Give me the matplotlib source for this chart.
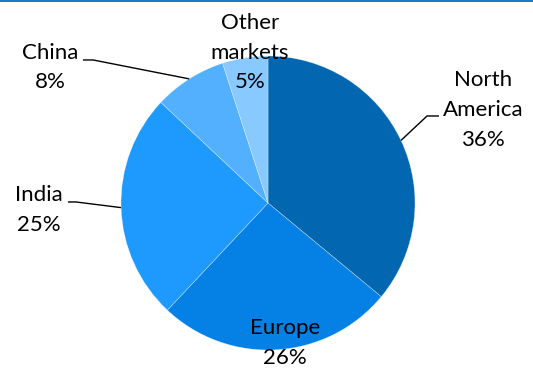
import matplotlib
matplotlib.use("Agg")
import matplotlib.pyplot as plt
from matplotlib.lines import Line2D
import numpy as np

# Revenue share by market
markets = ["North\nAmerica", "Europe", "India", "China", "Other\nmarkets"]
shares = [36, 26, 25, 8, 5]
colors = ["#0366b1", "#0580e5", "#1e9aff", "#52b0ff", "#88c9ff"]

# Label anchor (x, y) in pie-radius units and whether a leader line is drawn
label_pos = [(1.463, 0.632), (0.116, -0.952), (-1.558, -0.048),
             (-1.483, 0.922), (-0.122, 1.022)]
leader_start = [(1.163, 0.592), None, (-1.361, 0.007), (-1.259, 0.973), None]
leader_knee = [(1.082, 0.592), None, (-1.306, 0.007), (-1.190, 0.973), None]

plt.rcParams["font.family"] = ["Lato", "DejaVu Sans"]

fig = plt.figure(figsize=(5.33, 3.71), dpi=100)
ax = fig.add_axes([0, 0, 1, 1])
ax.axis("off")

wedges, _ = ax.pie(shares, colors=colors, startangle=90, counterclock=False,
                   radius=1.0, center=(0, 0),
                   wedgeprops=dict(linewidth=0.4, edgecolor="#ffffff80"))
ax.set_xlim(-268 / 147, (533 - 268) / 147)
ax.set_ylim(-(371 - 203) / 147, 203 / 147)
ax.set_aspect("auto")

for w, name, val, pos, start, knee in zip(wedges, markets, shares,
                                          label_pos, leader_start, leader_knee):
    ax.text(pos[0], pos[1], f"{name}\n{val}%", ha="center", va="center",
            fontsize=16, linespacing=1.6, color="#000000")
    if start is not None:
        mid = np.deg2rad((w.theta1 + w.theta2) / 2)
        edge = (np.cos(mid), np.sin(mid))
        ax.plot([start[0], knee[0], edge[0]], [start[1], knee[1], edge[1]],
                color="#000000", linewidth=1.0, solid_capstyle="butt")

# Accent rule along the top edge
fig.add_artist(Line2D([0, 1], [1 - 0.8 / 371, 1 - 0.8 / 371],
                      transform=fig.transFigure, color="#0070c0", linewidth=1.3))

fig.savefig("out.png", dpi=100)
